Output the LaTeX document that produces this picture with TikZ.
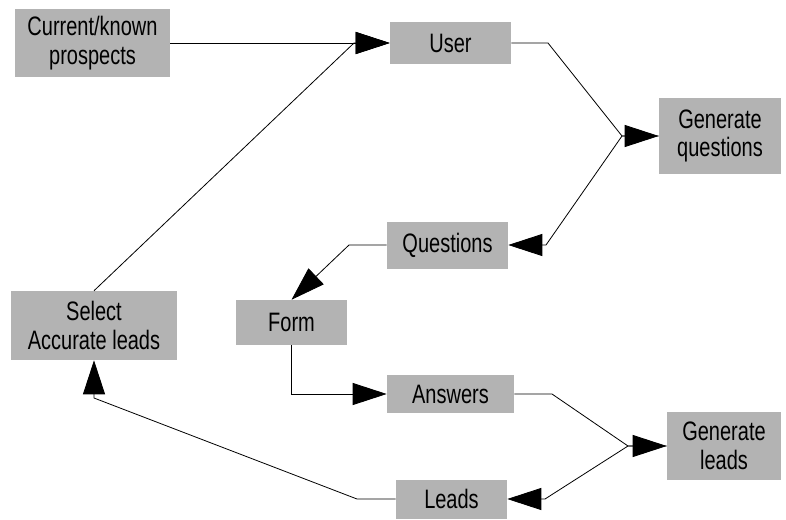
\documentclass[tikz,border=0pt]{standalone}
\usepackage{fontspec}
\setmainfont{Liberation Sans}[FakeStretch=0.75]
\usepackage{xcolor}
\usetikzlibrary{arrows.meta, positioning}
\definecolor{boxgray}{HTML}{B3B3B3}

\begin{document}
\begin{tikzpicture}[
  x=0.75pt, y=-0.75pt,
  box/.style={rectangle, fill=boxgray, inner sep=0pt, align=center, font=\fontsize{20}{21.5}\selectfont},
  arrow/.style={-{Triangle[length=25.5pt, width=16.5pt]}, line width=0.6pt},
  line/.style={line width=0.6pt}
]
\useasboundingbox (0,0) rectangle (786,519);

% ── Boxes ────────────────────────────────────────────────────
\node[box, minimum width=116.25pt, minimum height=51pt]   (cur)   at (92.5,43)   {Current/known\\prospects};
\node[box, minimum width=90.75pt,  minimum height=31.5pt] (user)  at (450.5,43)  {User};
\node[box, minimum width=91.5pt,   minimum height=57pt]   (genq)  at (720,136)   {Generate\\questions};
\node[box, minimum width=90.75pt,  minimum height=35.25pt](ques)  at (447.5,245) {Questions};
\node[box, minimum width=124.5pt,  minimum height=51.75pt](sel)   at (94,325.5)  {Select\\Accurate leads};
\node[box, minimum width=83.25pt,  minimum height=33.75pt](form)  at (291.5,322.5){Form};
\node[box, minimum width=95.25pt,  minimum height=28.5pt] (ans)   at (450.5,394) {Answers};
\node[box, minimum width=85.5pt,   minimum height=51pt]   (genl)  at (724,446)   {Generate\\leads};
\node[box, minimum width=83.25pt,  minimum height=29.25pt](leads) at (451.5,499) {Leads};

% ── Bend points ──────────────────────────────────────────────
\coordinate (ubend) at (548,43);
\coordinate (qjoin) at (622,136);
\coordinate (qbend) at (546,245);
\coordinate (fbend) at (349,245);
\coordinate (abend) at (552,394);
\coordinate (ljoin) at (628,446);
\coordinate (lbend) at (545,499);
\coordinate (sbend) at (357,499);
\coordinate (slow)  at (94,398);
\coordinate (stop)  at (354,43);

% ── Arrows ───────────────────────────────────────────────────
\draw[arrow] (cur)        -- (user);
\draw[arrow] (user.east)  -- (ubend) -- (qjoin) -- (genq.west);
\draw[arrow] (genq.west)  -- (qjoin) -- (qbend) -- (ques.east);
\draw[arrow] (ques.west)  -- (fbend) -- (form.north);
\draw[arrow] (form.south) |- (ans.west);
\draw[arrow] (ans.east)   -- (abend) -- (ljoin) -- (genl.west);
\draw[arrow] (genl.west)  -- (ljoin) -- (lbend) -- (leads.east);
\draw[arrow] (leads.west) -- (sbend) -- (slow) -- (sel.south);
\draw[arrow] (sel.north)  -- (stop) -- (user.west);
\end{tikzpicture}
\end{document}
